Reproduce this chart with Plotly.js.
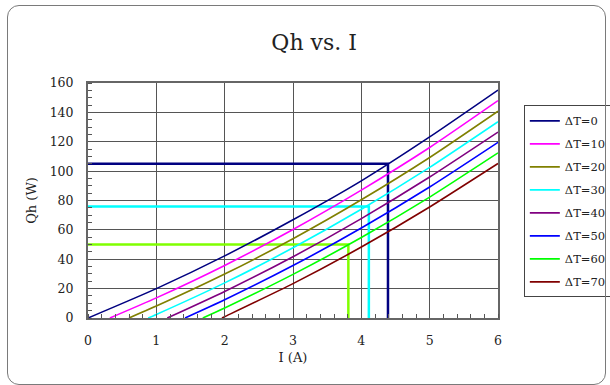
<!DOCTYPE html>
<html>
<head>
<meta charset="utf-8">
<script src="https://cdn.plot.ly/plotly-3.0.1.min.js"></script>
<style>
  html, body { margin: 0; padding: 0; background: #fff; }
  #wrap { position: relative; width: 610px; height: 385px; overflow: hidden; }
  #chart { position: absolute; left: 0; top: 0; width: 610px; height: 385px; }
  #frame { position: absolute; left: 7px; top: 5px; width: 597px; height: 378px;
           border: 1px solid #7a7a7a; border-radius: 12px; pointer-events: none; }
</style>
</head>
<body>
<div id="wrap">
  <div id="chart"></div>
  <div id="frame"></div>
</div>
<script>
// Series: Qh (W) vs current I (A) for each temperature difference
const seriesNames = ["ΔT=0", "ΔT=10", "ΔT=20", "ΔT=30", "ΔT=40", "ΔT=50", "ΔT=60", "ΔT=70"];
const seriesColors = ["#000080", "#ff00ff", "#808000", "#00ffff", "#800080", "#0000ff", "#00ff00", "#800000"];

const xDT0  = [0,    1,    2,    3,    4,    5,     6];
const yDT0  = [0,    20.0, 42.3, 66.9, 93.4, 123.3, 155.2];
const xDT10 = [0.32, 1,    2,    3,    4,    5,     6];
const yDT10 = [0,    13.7, 35.8, 60.3, 87.1, 116.1, 148.0];
const xDT20 = [0.60, 1,    2,    3,    4,    5,     6];
const yDT20 = [0,    8.1,  29.9, 54.0, 80.5, 109.3, 140.8];
const xDT30 = [0.88, 1,    2,    3,    4,    5,     6];
const yDT30 = [0,    2.4,  23.9, 47.8, 74.0, 102.5, 133.6];
const xDT40 = [1.16, 2,    3,    4,    5,    6];
const yDT40 = [0,    18.1, 41.7, 67.7, 96.0, 126.6];
const xDT50 = [1.42, 2,    3,    4,    5,    6];
const yDT50 = [0,    12.4, 35.7, 61.3, 89.2, 119.6];
const xDT60 = [1.68, 2,    3,    4,    5,    6];
const yDT60 = [0,    6.8,  29.7, 54.8, 82.3, 112.4];
const xDT70 = [1.96, 2,    3,    4,    5,    6];
const yDT70 = [0,    0.9,  23.4, 48.3, 75.6, 105.2];

// Operating-point guide lines (horizontal to curve, then down to the axis)
const guideNavyX  = [0, 4.39, 4.39];
const guideNavyY  = [105, 105, 0];
const guideCyanX  = [0, 4.11, 4.11];
const guideCyanY  = [76, 76, 0];
const guideGreenX = [0, 3.81, 3.81];
const guideGreenY = [50, 50, 0];
const guideColors = ["#000080", "#00ffff", "#80ff00"];

const xTicks = [0, 1, 2, 3, 4, 5, 6];
const yTicks = [0, 20, 40, 60, 80, 100, 120, 140, 160];

const seriesX = [xDT0, xDT10, xDT20, xDT30, xDT40, xDT50, xDT60, xDT70];
const seriesY = [yDT0, yDT10, yDT20, yDT30, yDT40, yDT50, yDT60, yDT70];

const FONT = "'DejaVu Serif', 'Liberation Serif', serif";

const traces = [];
const guides = [[guideNavyX, guideNavyY], [guideCyanX, guideCyanY], [guideGreenX, guideGreenY]];
guides.forEach((g, i) => {
  traces.push({
    x: g[0], y: g[1], type: 'scatter', mode: 'lines',
    line: { color: guideColors[i], width: 2.5 },
    showlegend: false, hoverinfo: 'skip', legendgroup: 'guide' + i
  });
});
seriesNames.forEach((n, i) => {
  traces.push({
    x: seriesX[i], y: seriesY[i], type: 'scatter', mode: 'lines', name: n,
    legendgroup: 'g' + i,
    line: { color: seriesColors[i], width: 1.6, shape: 'spline', smoothing: 0.6 }
  });
});

const layout = {
  width: 610, height: 385,
  margin: { l: 88, r: 112, t: 83, b: 67, autoexpand: false },
  paper_bgcolor: '#ffffff', plot_bgcolor: '#ffffff',
  font: { family: FONT, size: 12.5, color: '#222' },
  title: { text: 'Qh vs. I', x: 0.515, xref: 'container', xanchor: 'center',
           y: 0.89, yref: 'container', yanchor: 'middle',
           font: { family: FONT, size: 22, color: '#222' } },
  xaxis: {
    range: [0, 6], tickvals: xTicks, ticktext: xTicks.map(String),
    showgrid: true, gridcolor: '#555', gridwidth: 1,
    showline: true, mirror: true, linecolor: '#666', linewidth: 2,
    ticks: '', ticklabelstandoff: 10, zeroline: false,
    minor: { ticks: 'inside', dtick: 0.2, ticklen: 4, tickcolor: '#555', showgrid: false },
    title: { text: 'I (A)', font: { family: FONT, size: 13 }, standoff: 6 }
  },
  yaxis: {
    range: [0, 160], tickvals: yTicks, ticktext: yTicks.map(String),
    showgrid: true, gridcolor: '#555', gridwidth: 1,
    showline: true, mirror: true, linecolor: '#666', linewidth: 2,
    ticks: '', ticklabelstandoff: 10, zeroline: false,
    minor: { ticks: 'inside', dtick: 5, ticklen: 4, tickcolor: '#555', showgrid: false },
    title: { text: 'Qh (W)', font: { family: FONT, size: 13 }, standoff: 10 }
  },
  legend: {
    x: 1.063, xanchor: 'left', y: 0.905, yanchor: 'top',
    bgcolor: '#ffffff', bordercolor: '#444', borderwidth: 1,
    font: { family: FONT, size: 11.5, color: '#222' },
    tracegroupgap: 4, traceorder: 'grouped'
  },
  showlegend: true
};

Plotly.newPlot('chart', traces, layout, { displayModeBar: false, staticPlot: true });
</script>
</body>
</html>
